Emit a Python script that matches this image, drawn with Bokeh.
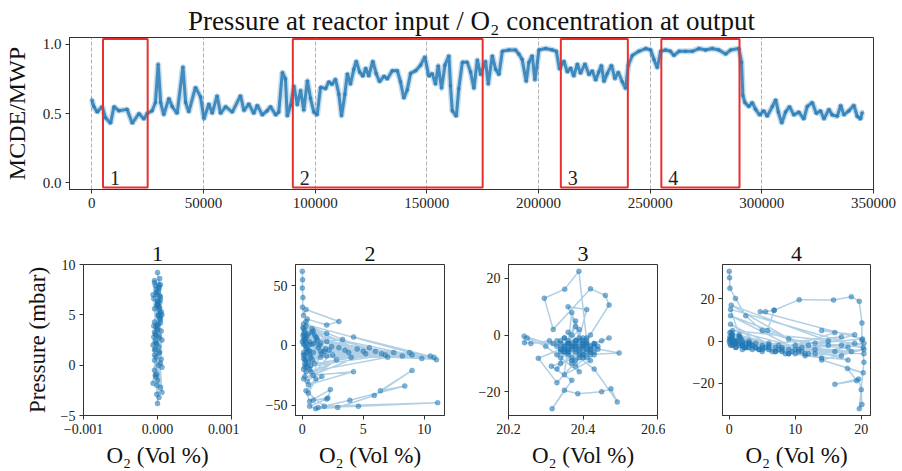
from bokeh.plotting import figure
from bokeh.layouts import column, row
from bokeh.models import FixedTicker, CustomJSTickFormatter
from bokeh.core.properties import value
from bokeh.embed import file_html
from bokeh.resources import INLINE

# ---------------- data ----------------
ts_x = [0, 900, 2400, 4650, 6100, 8400, 9900, 12100, 15800, 18100, 21100, 23300, 24800, 27000, 28500,
        29700, 30800, 32200, 34500, 36000, 38200, 40800, 42000, 43400, 46400, 48700, 50200, 52400, 53900,
        56100, 57600, 59900, 62900, 66600, 68100, 70300, 72500, 74100, 76300, 78500, 80000, 82300, 83700,
        85300, 86700, 87500, 89000, 90500, 92000, 93500, 94900, 96500, 97900, 99400, 100900, 102400,
        104700, 106100, 107600, 109100, 110600, 111800, 113300, 114400, 115800, 117300, 118400, 119900,
        121400, 122600, 124000, 125800, 127300, 128800, 130800, 132300, 134500, 136800, 138200, 139700,
        141200, 142700, 145000, 147200, 149100, 150900, 152400, 153900, 155100, 156600, 158100, 159900,
        160600, 161400, 163200, 164300, 165900, 168100, 169600, 171100, 172600, 174100, 176300, 177500,
        179300, 180800, 182300, 183800, 186700, 189700, 191200, 192700, 194500, 195700, 197200, 198400,
        200200, 203200, 206200, 208000, 209400, 211400, 212900, 214400, 215800, 217400, 218800, 220800,
        222600, 224100, 225600, 227000, 228200, 229300, 230800, 232700, 234200, 235700, 237500, 239000,
        240200, 242000, 244900, 248000, 250200, 251700, 253200, 254700, 256900, 259100, 260600, 262900,
        265800, 268900, 271800, 274800, 277800, 280800, 283800, 286000, 289700, 290900, 291500, 292400,
        294200, 295700, 297200, 299000, 300900, 302400, 304700, 306200, 307400, 308900, 310600, 312400,
        314300, 316600, 318800, 320300, 322600, 324400, 326300, 327800, 330000, 331500, 333800, 335300,
        336700, 339000, 341200, 342700, 344200, 345000]
ts_y = [0.60, 0.55, 0.51, 0.55, 0.47, 0.43, 0.55, 0.52, 0.53, 0.43, 0.50, 0.46, 0.50, 0.52, 0.58,
        0.86, 0.58, 0.49, 0.61, 0.55, 0.50, 0.84, 0.58, 0.51, 0.69, 0.62, 0.46, 0.57, 0.50,
        0.63, 0.50, 0.55, 0.51, 0.63, 0.52, 0.57, 0.50, 0.56, 0.49, 0.52, 0.55, 0.49, 0.51,
        0.80, 0.75, 0.48, 0.56, 0.70, 0.56, 0.67, 0.52, 0.74, 0.61, 0.51, 0.49, 0.69,
        0.68, 0.73, 0.71, 0.75, 0.64, 0.48, 0.64, 0.79, 0.71, 0.82, 0.88, 0.80,
        0.77, 0.83, 0.77, 0.88, 0.79, 0.73, 0.77, 0.75, 0.81, 0.81, 0.73, 0.61,
        0.67, 0.79, 0.81, 0.85, 0.91, 0.77, 0.79, 0.71, 0.85, 0.68, 0.85, 0.92,
        0.70, 0.52, 0.48, 0.68, 0.87, 0.87, 0.80, 0.68, 0.89, 0.78, 0.88, 0.71,
        0.92, 0.82, 0.78, 0.95, 0.96, 0.96, 0.93, 0.89, 0.73, 0.87, 0.92, 0.74,
        0.96, 0.97, 0.96, 0.95, 0.82, 0.88, 0.80, 0.83, 0.77, 0.86, 0.79, 0.86,
        0.78, 0.81, 0.74, 0.80, 0.85, 0.73, 0.79, 0.85, 0.75, 0.80, 0.73, 0.68,
        0.85, 0.92, 0.95, 0.97, 0.96, 0.89, 0.83, 0.95, 0.96, 0.95, 0.92, 0.95,
        0.95, 0.95, 0.97, 0.96, 0.97, 0.96, 0.93, 0.96, 0.97, 0.87, 0.63, 0.58,
        0.55, 0.58, 0.53, 0.49, 0.52, 0.48, 0.55, 0.60, 0.51, 0.43, 0.51, 0.55,
        0.49, 0.51, 0.46, 0.55, 0.58, 0.50, 0.52, 0.46, 0.53, 0.49, 0.48, 0.56,
        0.49, 0.52, 0.56, 0.48, 0.46, 0.51]

rect_left = [5000, 90000, 210000, 255000]
rect_right = [25000, 175000, 240000, 290000]
rect_labels = ["1", "2", "3", "4"]
top_xticks = [0, 50000, 100000, 150000, 200000, 250000, 300000, 350000]
top_yticks = [0.0, 0.5, 1.0]

p1_x = [0.0, 2e-5, -2e-5, 4e-5, -4e-5, 2e-5, -6e-5, 4e-5, 0.0, -2e-5,
        6e-5, -2e-5, 2e-5, -4e-5, 4e-5, -4e-5, 0.0, 4e-5, -2e-5, 2e-5,
        -6e-5, 2e-5, -4e-5, 6e-5, 0.0, -2e-5, 4e-5, -4e-5, 2e-5, 0.0,
        6e-5, -2e-5, 4e-5, -4e-5, 2e-5, 0.0, 4e-5, -4e-5, 2e-5, -6e-5,
        4e-5, 0.0, -2e-5, 6e-5, -4e-5, 2e-5, 4e-5, -4e-5, 0.0, 2e-5,
        -3e-5, 3e-5, -1e-5, 5e-5, -5e-5, 1e-5, 3e-5, -3e-5, 1e-5, -1e-5,
        5e-5, -5e-5, 3e-5, -1e-5, 1e-5, -3e-5, 3e-5, -5e-5, 1e-5, -1e-5,
        3e-5, -3e-5, 5e-5, -1e-5, 1e-5, -3e-5, 3e-5, -1e-5, 1e-5, 0.0]
p1_y = [9.2, 8.0, 7.5, 6.8, 8.2, 5.5, 7.0, 4.2, 6.1, 3.0,
        5.0, 2.2, 7.8, 1.0, 4.5, -0.5, 3.6, 6.5, 0.8, 2.9,
        -1.8, 5.8, 1.5, -2.7, 4.0, 7.2, 0.2, 3.3, -3.2, 6.0,
        2.5, -1.2, 5.2, 8.4, 1.8, -3.8, 4.8, 0.5, 7.6, 2.0,
        -2.2, 6.3, 3.8, -0.2, 5.6, 1.2, 8.0, 4.3, -1.5, 2.7,
        7.9, 1.3, 5.9, 3.4, 6.6, 0.0, 4.6, 2.4, 7.3, -0.9,
        5.3, 3.9, 6.9, -2.0, 4.9, 1.6, 8.6, 2.8, 5.0, -2.9,
        6.2, 3.1, 0.6, 7.0, 4.1, -1.0, 5.7, 2.1, 6.4, 3.5]

p2_x = [0.0, 0.02, 0.0, 0.05, 0.02, 0.1, 0.3, 3.0, 2.0, 0.4,
        0.2, 0.6, 0.1, 1.0, 0.3, 1.5, 0.1, 2.2, 0.5, 3.0,
        0.2, 3.8, 0.8, 4.5, 0.1, 5.2, 1.2, 6.0, 0.4, 6.8,
        2.0, 7.5, 0.6, 8.2, 1.0, 9.0, 0.2, 9.8, 2.5, 10.5,
        0.3, 11.0, 4.2, 10.8, 1.5, 8.8, 0.1, 7.0, 0.7, 5.5,
        0.2, 4.0, 1.0, 3.3, 0.4, 2.8, 0.05, 2.0, 0.9, 4.2,
        0.5, 1.6, 0.3, 0.6, 2.3, 2.1, 0.9, 2.0, 0.6, 1.1,
        2.9, 5.9, 9.0, 6.4, 8.4, 3.9, 1.3, 4.6, 11.1, 1.8,
        0.5, 1.1, 0.2, 1.8, 0.0, 0.6, 0.1, 1.3, 0.3, 0.8,
        0.1, 0.5, 0.2, 0.9, 0.3, 1.4, 0.1, 0.7, 0.4, 1.9,
        0.2, 0.6, 0.1, 1.1, 0.3, 2.4, 0.5, 0.2, 0.8, 0.1,
        1.6, 0.3, 0.05, 1.2, 0.4, 0.7, 0.2, 2.0, 0.1, 0.9,
        0.3, 1.5, 0.6, 0.2, 3.5, 0.4, 5.0, 0.8, 6.5, 0.3]
p2_y = [62, 55, 48, 40, 32, 25, 30, 20, 17, 22,
        12, -8, 5, -15, 16, 2, -20, -4, 10, -2,
        -12, -6, 14, -3, -28, -7, 6, -5, -18, -8,
        3, -6, -5, -9, 9, -8, 0, -11, -8, -9,
        -3, -12, 7, -10, -10, -6, 18, -10, -22, -2,
        -8, -10, 2, 5, -30, -12, 8, 10, -25, -22,
        -33, -26, -38, -47, -37, -44, -46, -45, -51, -53,
        -52, -42, -21, -38, -34, -46, -52, -51, -48, -51,
        -40, -28, -15, -5, 3, 1, -6, -2, 6, -12,
        10, -14, 4, -6, -22, 0, 14, -10, 8, -3,
        -18, 3, -8, 7, 20, -1, -4, -26, 11, 1,
        -7, -12, 15, 4, -2, -17, 6, -9, -11, 12,
        2, -5, -20, 9, -4, -6, -5, 1, -7, -16]

p3_x = [20.38, 20.33, 20.42, 20.36, 20.40, 20.34, 20.43, 20.37, 20.39, 20.35,
        20.41, 20.32, 20.44, 20.38, 20.36, 20.40, 20.33, 20.42, 20.37, 20.39,
        20.30, 20.25, 20.26, 20.31, 20.35, 20.41, 20.38, 20.34, 20.43, 20.36,
        20.39, 20.45, 20.47, 20.40, 20.37, 20.35, 20.42, 20.38, 20.33, 20.41,
        20.389, 20.351, 20.296, 20.32, 20.42, 20.46, 20.47, 20.40, 20.36, 20.41,
        20.38, 20.242, 20.243, 20.36, 20.497, 20.40, 20.315, 20.37, 20.317, 20.35,
        20.386, 20.45, 20.475, 20.492, 20.43, 20.39, 20.33, 20.28, 20.34, 20.40,
        20.37, 20.43, 20.35, 20.39, 20.36, 20.41, 20.38, 20.34, 20.42, 20.37,
        20.36, 20.41, 20.34, 20.39, 20.43, 20.37, 20.40, 20.35, 20.42, 20.38,
        20.33, 20.40, 20.36, 20.44, 20.38, 20.35, 20.41, 20.37, 20.39, 20.34,
        20.42, 20.36, 20.40, 20.38, 20.35, 20.43, 20.37, 20.39, 20.41, 20.36,
        20.34, 20.40, 20.38, 20.42, 20.37, 20.35, 20.39, 20.41, 20.36, 20.38]
p3_y = [-4, -2, -5, -7, -1, -5, -3, -9, 2, -4,
        -6, -3, -4, -11, 1, -3, -7, 0, -5, -13,
        -4, -1, -3, -2, -5, -8, 5, -10, -6, -3,
        -4, -2, -1, -5, 8, -14, -9, 3, -12, -2,
        22.5, 16.2, 13, 2, 16.3, 14, 10.6, -4, 10, 9,
        -6, -0.4, -2.7, -3, -6.3, -7, -11, -16, -26, -19.5,
        -20.7, -20, -19, -23.6, -12, -8, -16.8, -8.2, -5, -2,
        -4, -7, -1, -5, -6, -3, -2, -8, -4, -3,
        -3, -5, -6, -2, -4, -8, -3, -1, -6, -5,
        -4, -7, -2, -5, -9, -6, -3, -4, -1, -3,
        -7, -5, -4, -2, -6, -3, -10, -6, -4, -5,
        -2, -8, -3, -5, 0, -4, -7, -1, -6, -4]

p4_x = [0.0, 0.05, 0.1, 0.95, 2.5, 5, 9, 13, 17, 20.3,
        0.2, 1.5, 0.1, 2, 0.3, 3, 0.5, 4, 0.1, 5,
        1, 6, 0.2, 7, 2, 8, 0.4, 9, 3, 10,
        1.5, 11, 0.2, 12, 4, 11.5, 0.6, 13, 5, 14,
        0.3, 15, 6, 16, 1, 17, 7, 18, 0.5, 19,
        8, 20.4, 2, 20.2, 4.7, 5.5, 6.8, 5.8, 6.8, 10.6,
        15.8, 18.5, 19.7, 20.1, 20.1, 20.4, 19.7, 20.1, 20.0, 19.6,
        16, 19.3, 17.9, 20.3, 14, 20.4, 12, 18, 10, 16,
        14, 19, 9, 15, 11, 20.4, 13, 17, 3, 18.5,
        1, 10.5, 0.2, 6, 0.1, 3.5, 0.4, 7.5, 0.0, 2.5,
        0.2, 1.5, 0.5, 2.5, 1, 3.5, 0.3, 4.5, 1.8, 5.5,
        0.8, 6.5, 2.5, 7.5, 1.2, 8.5, 3.5, 9.5, 0.4, 10.5,
        4.5, 11.5, 2, 6, 0.6, 7, 3, 8, 1.4, 9,
        5, 10, 0.1, 4, 2.2, 5, 0.9, 3, 1.6, 2]
p4_y = [33, 30, 25, 20.2, 12, 5, 1, -1, -2, -3,
        15, 3, -1, -2, 4, -1, 1, -3, 2, -2,
        -1, -4, 8, -3, 0, -5, -2, -4, -1, -6,
        2, -5, 12, -2, -3, -7, 0, -4, -4, -8,
        17, 0, -3, -5, -3, 2, -5, -9, 5, -1,
        -4, -6, -4, 1, 13.9, 13.9, 14.6, 5, 14.6, 19.6,
        19.4, 21, 18.8, 8.6, 0.5, -10, -32, -30, -23, -18,
        -20.5, -18.8, -13, -15, -9, -4, -6, -3, -2, 4,
        5, 3, -6, -2, -3, -1, -6, -7, -2, -5,
        0, -4, -2, -1, 1, -4, 3, -2, 0, -3,
        1, -2, 3, -1, -3, -2, 0, -4, 1, -3,
        -1, -5, -3, -4, 0, -6, -2, -5, 2, -5,
        -4, -6, -2, -2, -2, -5, 0, -3, -1, -6,
        -3, -4, 4, -1, -3, -5, 0, -3, 2, -1]

panel_titles = ["1", "2", "3", "4"]
panel_xranges = [(-0.001, 0.001), (-0.56, 11.66), (20.2, 20.6), (-1.02, 21.4)]
panel_yranges = [(-5, 10), (-58.75, 67.75), (-28.4, 24.9), (-35.25, 36.25)]
panel_xticks = [[-0.001, 0.0, 0.001], [0, 5, 10], [20.2, 20.4, 20.6], [0, 10, 20]]
panel_yticks = [[-5, 0, 5, 10], [-50, 0, 50], [-20, 0, 20], [-20, 0, 20]]
panel_xdec = [3, 0, 1, 0]
panel_data = [(p1_x, p1_y), (p2_x, p2_y), (p3_x, p3_y), (p4_x, p4_y)]

# ---------------- style ----------------
FONT = "Liberation Serif"
BLUE = "#1f77b4"
FRAME = "#333333"


def fmt(dec):
    return CustomJSTickFormatter(code="return tick.toFixed(%d).replace('-', '\u2212');" % dec)


def style(p, tick_size):
    p.outline_line_color = FRAME
    p.outline_line_alpha = 1.0
    p.outline_line_width = 1
    for ax in (p.xaxis[0], p.yaxis[0]):
        ax.axis_line_color = FRAME
        ax.major_tick_line_color = FRAME
        ax.major_tick_in = 0
        ax.major_tick_out = 4
        ax.minor_tick_line_color = None
        ax.major_label_text_font = FONT
        ax.major_label_text_font_size = tick_size
        ax.major_label_text_color = "#222222"
        ax.axis_label_text_font = FONT
        ax.axis_label_text_font_style = "normal"
        ax.axis_label_text_color = "#111111"
        ax.major_label_standoff = 4
    p.title.text_font = FONT
    p.title.text_font_style = "normal"
    p.title.align = "center"
    p.title.text_color = "#111111"


# ---------------- top figure ----------------
top = figure(width=902, height=230, x_range=(-10000, 350000), y_range=(-0.05, 1.05),
             output_backend="svg", toolbar_location=None,
             min_border_left=69, min_border_right=29, min_border_top=37, min_border_bottom=41,
             title="Pressure at reactor input / O\u2082 concentration at output")
style(top, "15px")
top.title.text_font_size = "27px"
top.title.standoff = 3
top.xaxis.ticker = FixedTicker(ticks=top_xticks)
top.xaxis.formatter = fmt(0)
top.yaxis.ticker = FixedTicker(ticks=top_yticks)
top.yaxis.formatter = fmt(1)
top.yaxis.axis_label = "MCDE/MWP"
top.yaxis.axis_label_text_font_size = "24px"
top.yaxis.axis_label_standoff = 10
top.ygrid.grid_line_color = None
top.xgrid.grid_line_color = "#b0b0b0"
top.xgrid.grid_line_dash = "4 2"
top.xgrid.grid_line_width = 1

top.line(ts_x, ts_y, line_color=BLUE, line_alpha=0.25, line_width=6)
top.line(ts_x, ts_y, line_color=BLUE, line_alpha=0.8, line_width=3)
top.scatter(ts_x, ts_y, size=4, fill_color=BLUE, fill_alpha=0.5, line_color=None)
top.quad(left=rect_left, right=rect_right, bottom=-0.035, top=1.04,
         fill_alpha=0, line_color="#e8312f", line_width=2)
top.text(x=rect_left, y=0.033, text=rect_labels, x_offset=7,
         text_font=value(FONT), text_font_size="20px", text_color="#222222",
         text_baseline="alphabetic", text_align="left")

# ---------------- bottom panels ----------------
borders = [(83, 8), (56, 8), (56, 8), (57, 32)]
frame_w = [148, 149, 149, 148]
panels = []
for i in range(4):
    bl, br = borders[i]
    q = figure(width=bl + frame_w[i] + br, height=241,
               x_range=panel_xranges[i], y_range=panel_yranges[i],
               output_backend="svg", toolbar_location=None,
               min_border_left=bl, min_border_right=br, min_border_top=34, min_border_bottom=56,
               title=panel_titles[i])
    style(q, "14px")
    q.title.text_font_size = "22px"
    q.title.standoff = 8
    q.xgrid.grid_line_color = None
    q.ygrid.grid_line_color = None
    q.xaxis.ticker = FixedTicker(ticks=panel_xticks[i])
    q.xaxis.formatter = fmt(panel_xdec[i])
    q.yaxis.ticker = FixedTicker(ticks=panel_yticks[i])
    q.yaxis.formatter = fmt(0)
    q.xaxis.axis_label = "O\u2082 (Vol %)"
    q.xaxis.axis_label_text_font_size = "23px"
    q.xaxis.axis_label_standoff = 6
    if i == 0:
        q.yaxis.axis_label = "Pressure (mbar)"
        q.yaxis.axis_label_text_font_size = "23px"
        q.yaxis.axis_label_standoff = 8
    xs, ys = panel_data[i]
    q.line(xs, ys, line_color=BLUE, line_alpha=0.35, line_width=1.5)
    q.scatter(xs, ys, size=5, fill_color=BLUE, fill_alpha=0.55, line_color=BLUE, line_alpha=0.3)
    panels.append(q)

layout = column(top, row(*panels))
open("out.html", "w", encoding="utf-8").write(file_html(layout, INLINE))
